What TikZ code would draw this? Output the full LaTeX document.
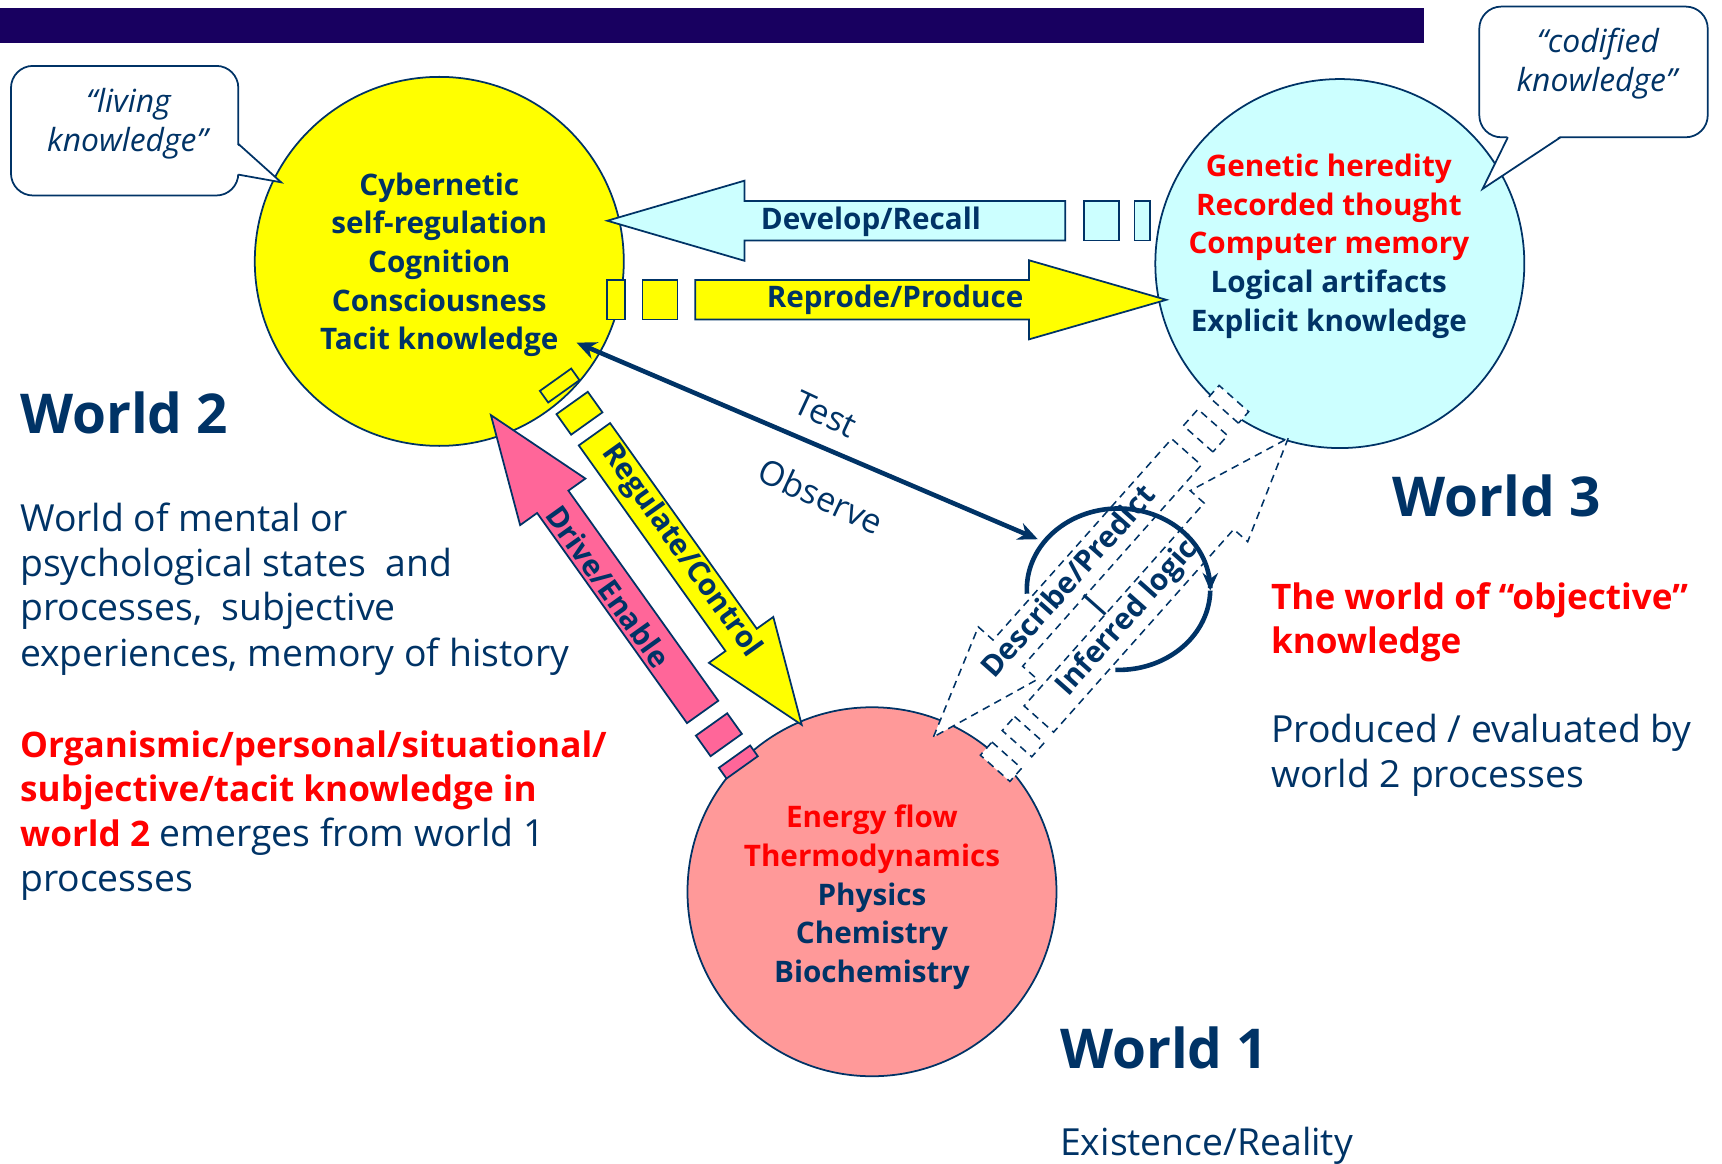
\documentclass[tikz,border=0pt]{standalone}
\usepackage{fontspec}
\setmainfont{Open Sans}
\usetikzlibrary{arrows.meta}
\definecolor{navy}{RGB}{0,51,102}
\definecolor{barblue}{RGB}{24,0,96}
\definecolor{wyellow}{RGB}{255,255,0}
\definecolor{wcyan}{RGB}{204,255,255}
\definecolor{wpink}{RGB}{255,153,153}
\definecolor{apink}{RGB}{255,102,153}
\definecolor{tred}{RGB}{255,0,0}
% block arrow: style, tip x, tip y, angle, head length, head half width, shaft half width, shaft end
\newcommand{\blockarrow}[8]{%
  \begin{scope}[shift={(#2,#3)},rotate=#4]
    \draw[#1] (0,0) -- (-#5,#6) -- (-#5,#7) -- (-#8,#7) -- (-#8,-#7) -- (-#5,-#7) -- (-#5,-#6) -- cycle;
  \end{scope}}
% trailing block: style, tip x, tip y, angle, from, to, half width
\newcommand{\arrowblock}[7]{%
  \begin{scope}[shift={(#2,#3)},rotate=#4]
    \draw[#1] (-#5,-#7) rectangle (-#6,#7);
  \end{scope}}
\begin{document}
\begin{tikzpicture}[x=0.5pt,y=-0.5pt,
  navyline/.style={draw=navy,line width=0.8pt},
  circ/.style={circle,navyline,minimum size=168pt,inner sep=0pt},
  yblk/.style={navyline,fill=wyellow},
  cblk/.style={navyline,fill=wcyan},
  pblk/.style={navyline,fill=apink},
  dblk/.style={draw=navy,line width=0.7pt,dash pattern=on 3.5pt off 2.5pt,fill=white},
  ctext/.style={align=center,inner sep=0pt,text=navy,font=\bfseries\fontsize{13.5}{17.6}\selectfont},
  albl/.style={inner sep=0pt,text=navy,font=\bfseries\fontsize{13.5}{16}\selectfont},
  tlbl/.style={inner sep=0pt,text=navy,font=\fontsize{15.5}{18}\selectfont},
  head/.style={anchor=base west,inner sep=0pt,text=navy,font=\bfseries\fontsize{25}{30}\selectfont},
  para/.style={anchor=base west,inner sep=0pt,text=navy,font=\fontsize{17}{20.5}\selectfont},
  rpara/.style={anchor=base west,inner sep=0pt,text=tred,font=\bfseries\fontsize{16}{20.5}\selectfont},
  ctxt/.style={anchor=base,inner sep=0pt,text=navy,font=\itshape\fontsize{14.5}{17.5}\selectfont},
  callout/.style={draw=navy,line width=0.8pt,fill=white},
  thick arrow/.style={draw=navy,line width=2.1pt}
]
\useasboundingbox (0,0) rectangle (1568,1059);

% title bar
\fill[barblue] (0,7) rectangle (1297,39);

% circles
\node[circ,fill=wyellow] (w2) at (400,238) {};
\node[circ,fill=wcyan] (w3) at (1220,240) {};
\node[circ,fill=wpink] (w1) at (794,812) {};

% Develop/Recall (cyan, pointing left)
\blockarrow{cblk}{553}{201}{180}{125}{36.5}{18}{417}
\arrowblock{cblk}{553}{201}{180}{434}{466}{18}
\arrowblock{cblk}{553}{201}{180}{480}{494}{18}
% Reprode/Produce (yellow, pointing right)
\blockarrow{yblk}{1062}{273}{0}{125}{36}{18}{429}
\arrowblock{yblk}{1062}{273}{0}{445}{477}{18}
\arrowblock{yblk}{1062}{273}{0}{493}{509}{18}
% Regulate/Control (yellow, down-right)
\blockarrow{yblk}{730}{660}{-54.5}{95}{36}{17.5}{325}
\arrowblock{yblk}{730}{660}{-54.5}{337}{360}{17.5}
\arrowblock{yblk}{730}{660}{-54.5}{373}{386}{17.5}
% Drive/Enable (pink, up-left)
\blockarrow{pblk}{447}{378}{125.5}{97}{36.5}{17.5}{332}
\arrowblock{pblk}{447}{378}{125.5}{346}{369}{17.5}
\arrowblock{pblk}{447}{378}{125.5}{382}{394}{17.5}
% Describe/Predict (dashed, down-left)
\blockarrow{dblk}{850}{671}{-131.6}{102}{36}{18}{347}
\arrowblock{dblk}{850}{671}{-131.6}{363}{383}{18}
\arrowblock{dblk}{850}{671}{-131.6}{398}{412}{18}
% Inferred logic (dashed, up-right)
\blockarrow{dblk}{1173}{399}{48.4}{95}{35}{18}{342}
\arrowblock{dblk}{1173}{399}{48.4}{355}{372}{18}
\arrowblock{dblk}{1173}{399}{48.4}{386}{402}{18}

% callouts
\draw[callout,rounded corners=10pt] (10,60) rectangle (217,178);
\fill[white] (215.5,131.5) -- (256,166) -- (215.5,158.5) -- cycle;
\draw[navy,line width=0.8pt] (217,131) -- (256,166) -- (217,159);
\draw[callout,rounded corners=10pt] (1347,6) rectangle (1555,125);
\fill[white] (1373,123.5) -- (1350,172) -- (1421,123.5) -- cycle;
\draw[navy,line width=0.8pt] (1373,125) -- (1350,172) -- (1421,125);

% test / observe
\coordinate (tt1) at (525,312);
\coordinate (tt2) at (945,491);
\draw[thick arrow,{Stealth[length=9pt,width=8pt]}-{Stealth[length=9pt,width=8pt]}] (tt1) -- (tt2);

% loop
\draw[thick arrow,-{Stealth[length=8pt,width=7pt]}] plot[domain=176.8:361,samples=90,smooth] ({1018.5+83.5*cos(\x)},{536.5+73.5*sin(\x)});
\draw[thick arrow] plot[domain=361:452,samples=40,smooth] ({1018.5+83.5*cos(\x)},{536.5+73.5*sin(\x)});

% circle texts
\node[ctext] (w2txt) at (400,241) {Cybernetic\\self-regulation\\Cognition\\Consciousness\\Tacit knowledge};
\node[ctext] (w3txt) at (1210,224) {\textcolor{tred}{Genetic heredity}\\\textcolor{tred}{Recorded thought}\\\textcolor{tred}{Computer memory}\\Logical artifacts\\Explicit knowledge};
\node[ctext] (w1txt) at (794,817) {\textcolor{tred}{Energy flow}\\\textcolor{tred}{Thermodynamics}\\Physics\\Chemistry\\Biochemistry};

% arrow labels
\node[albl] (ldev) at (793,202) {Develop/Recall};
\node[albl] (lrep) at (815,273) {Reprode/Produce};
\node[albl,rotate=-54.5] (lreg) at (620,502) {Regulate/Control};
\node[albl,rotate=-54.5] (ldrv) at (554,534) {Drive/Enable};
\node[albl,align=center,rotate=48.4,font=\bfseries\fontsize{13.5}{15.2}\selectfont] (ldes) at (997,551)
  {Describe/Predict\\|\hspace*{38pt}\\\hspace*{11pt}Inferred logic};
\node[tlbl,rotate=-25] (ltest) at (752,377) {Test};
\node[tlbl,rotate=-25] (lobs) at (748,452) {Observe};

% callout texts
\node[ctxt] (cl1) at (117,102) {“living};
\node[ctxt] (cl2) at (116,138) {knowledge”};
\node[ctxt] (cc1) at (1455,48) {“codified};
\node[ctxt] (cc2) at (1454,83) {knowledge”};

% headings
\node[head] (h2) at (18,395) {World 2};
\node[head] (h3) at (1268,470) {World 3};
\node[head] (h1) at (965,973) {World 1};

% left text
\node[para] (p1) at (18,484) {World of mental or};
\node[para] (p2) at (18,525) {psychological states~ and};
\node[para] (p3) at (18,565) {processes,~ subjective};
\node[para] (p4) at (18,607) {experiences, memory of history};
\node[rpara] (r1) at (18,690) {Organismic/personal/situational/};
\node[rpara] (r2) at (18,730) {subjective/tacit knowledge in};
\node[para] (r3) at (18,771) {\textcolor{tred}{\bfseries\fontsize{16}{20.5}\selectfont world 2} emerges from world 1};
\node[para] (r4) at (18,812) {processes};

% right text
\node[rpara] (q1) at (1157,555) {The world of “objective”};
\node[rpara] (q2) at (1157,595) {knowledge};
\node[para] (q3) at (1157,676) {Produced / evaluated by};
\node[para] (q4) at (1157,717) {world 2 processes};
\node[para] (q5) at (965,1052) {Existence/Reality};
\end{tikzpicture}
\end{document}
